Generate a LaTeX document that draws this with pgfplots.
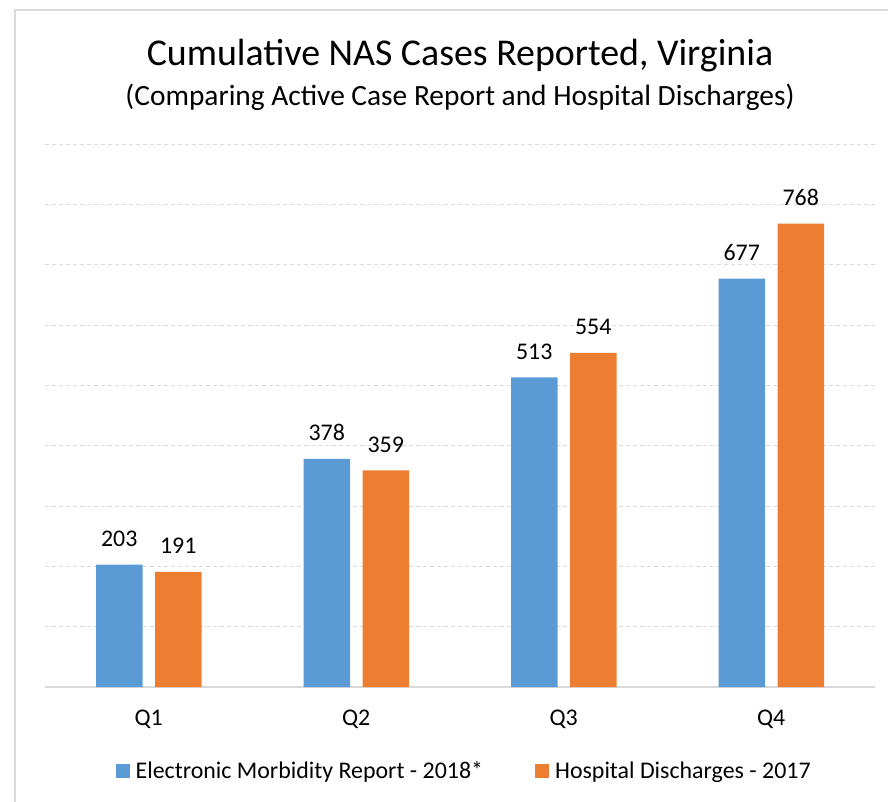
\documentclass[border=0pt]{standalone}
\usepackage{pgfplots}
\pgfplotsset{compat=1.18}
\usepackage{fontspec}
\setmainfont{Carlito}
\definecolor{cblue}{HTML}{5B9BD5}
\definecolor{corange}{HTML}{ED7D31}
\definecolor{gridc}{HTML}{D9D9D9}
\begin{document}
\begin{tikzpicture}
\useasboundingbox (0,0) rectangle (888bp,-802bp);
\draw[gridc, line width=1.5bp] (15bp,-900bp) -- (15bp,-10bp) -- (950bp,-10bp);
\node[font=\fontsize{38}{44}\selectfont, anchor=base, inner sep=0pt] at (460bp,-65bp) {Cumulative NAS Cases Reported, Virginia};
\node[font=\fontsize{29.5}{34}\selectfont, anchor=base, inner sep=0pt] at (460bp,-105bp) {(Comparing Active Case Report and Hospital Discharges)};
\begin{axis}[at={(45bp,-687bp)}, anchor=south west, scale only axis,
  width=830bp, height=543bp,
  xmin=-0.5, xmax=3.5, ymin=0, ymax=900,
  ybar=12.5bp, bar width=46.5bp,
  xtick={0,1,2,3}, xticklabels={Q1,Q2,Q3,Q4},
  ytick={100,200,...,900}, yticklabels={}, ymajorgrids,
  grid style={gridc, line width=1bp, dash pattern=on 4bp off 3bp},
  extra y ticks={0}, extra y tick labels={},
  extra y tick style={grid style={gridc, solid, line width=1.5bp}},
  major tick length=0pt, axis line style={draw=none},
  tick label style={font=\fontsize{24}{28}\selectfont},
  xticklabel style={anchor=base, yshift=-38bp},
  /pgf/number format/assume math mode=true,
  nodes near coords,
  every node near coord/.append style={font=\fontsize{24}{28}\selectfont, anchor=base, inner sep=0pt, yshift=18bp, text=black},
  legend style={at={(0.505,-0.1547)}, anchor=center, draw=none, fill=none,
    legend columns=2, font=\fontsize{24}{28}\selectfont, inner sep=0pt,
    /tikz/every even column/.append style={column sep=50bp}},
  legend image code/.code={\fill[#1] (0bp,-7bp) rectangle (14bp,7bp); \path (18bp,0bp);},
]
\addplot[fill=cblue, draw=none] coordinates {(0,203) (1,378) (2,513) (3,677)};
\addplot[fill=corange, draw=none] coordinates {(0,191) (1,359) (2,554) (3,768)};
\legend{Electronic Morbidity Report - 2018*, Hospital Discharges - 2017}
\end{axis}
\end{tikzpicture}
\end{document}
